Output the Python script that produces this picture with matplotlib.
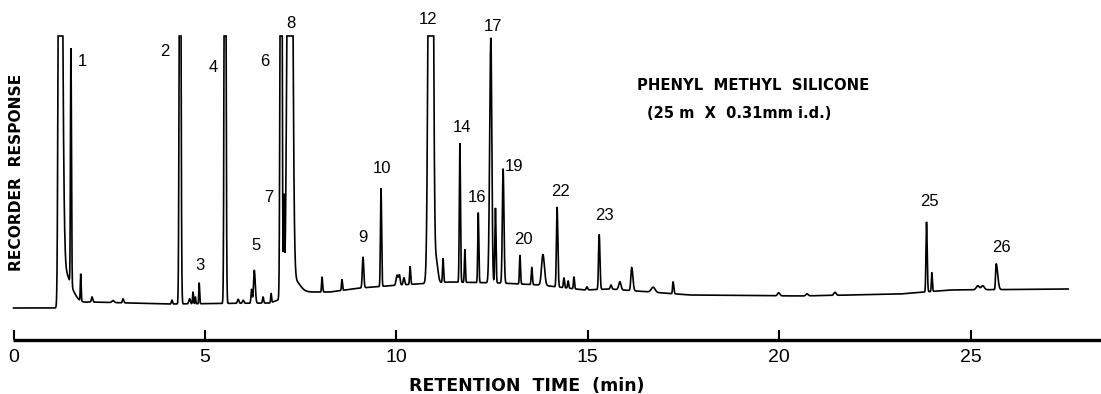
import numpy as np
import matplotlib.pyplot as plt

plt.rcParams['font.family'] = ['Liberation Sans', 'DejaVu Sans']

# peaks: retention time (min), height above baseline,
# left / right half-widths (min)
peak_t = [1.20, 1.25, 1.50, 1.755, 2.05, 2.60, 2.86, 4.14, 4.35, 4.60, 4.69, 4.75, 4.85,
          5.525, 5.87, 6.00, 6.22, 6.29, 6.52, 6.73, 6.99, 7.065, 7.22, 7.30,
          8.06, 8.58, 9.13, 9.60, 10.02, 10.08, 10.20, 10.36, 10.90, 11.05, 11.22,
          11.66, 11.79, 12.14, 12.47, 12.59, 12.79, 13.23, 13.54, 13.83, 14.20,
          14.38, 14.49, 14.64, 14.98, 15.30, 15.61, 15.84, 16.15, 16.71, 17.23,
          19.99, 20.73, 21.46, 23.85, 23.99, 25.19, 25.32, 25.67]
peak_h = [900, 40, 236, 27, 5, 2, 4, 4, 700, 5, 12, 7, 21,
          800, 4, 3, 14, 33, 6, 9, 900, 95, 1000, 15,
          15, 11, 31, 98, 10, 10, 7, 18, 1100, 20, 24,
          139, 33, 70, 245, 75, 114, 29, 17, 31, 80,
          10, 7, 12, 3, 55, 4, 8, 23, 5, 12,
          3, 2, 3, 70, 19, 4, 4, 26]
peak_wl = [0.025, 0.02, 0.012, 0.01, 0.015, 0.03, 0.015, 0.015, 0.018, 0.02, 0.012, 0.01, 0.01,
           0.018, 0.02, 0.02, 0.015, 0.02, 0.015, 0.012, 0.02, 0.012, 0.05, 0.02,
           0.012, 0.012, 0.018, 0.014, 0.025, 0.02, 0.02, 0.013, 0.045, 0.03, 0.013,
           0.014, 0.012, 0.013, 0.03, 0.015, 0.02, 0.013, 0.015, 0.035, 0.017,
           0.015, 0.015, 0.013, 0.02, 0.017, 0.02, 0.03, 0.022, 0.05, 0.013,
           0.03, 0.03, 0.03, 0.014, 0.012, 0.04, 0.04, 0.015]
peak_wr = [0.055, 0.22, 0.014, 0.012, 0.02, 0.03, 0.02, 0.015, 0.02, 0.02, 0.012, 0.01, 0.012,
           0.02, 0.02, 0.02, 0.015, 0.025, 0.015, 0.012, 0.02, 0.012, 0.05, 0.15,
           0.015, 0.015, 0.02, 0.016, 0.025, 0.02, 0.02, 0.015, 0.045, 0.04, 0.015,
           0.016, 0.014, 0.015, 0.025, 0.015, 0.022, 0.015, 0.015, 0.04, 0.02,
           0.015, 0.015, 0.015, 0.02, 0.02, 0.02, 0.03, 0.03, 0.05, 0.02,
           0.03, 0.03, 0.03, 0.018, 0.014, 0.04, 0.04, 0.04]

# baseline drift
base_t = [0, 1.08, 2.0, 4.09, 6.7, 7.48, 8.27, 9.05, 10.1, 11.4, 12.7, 13.75,
          14.93, 15.58, 16.63, 17.67, 20.55, 23.16, 23.81, 24.46, 27.55]
base_v = [0, 0, 6, 4, 5, 16, 16, 20, 23, 26, 25, 23,
          18, 19, 16, 13, 12, 14, 16, 18, 19]

pen_limit = 272

peak_labels = ['1', '2', '3', '4', '5', '6', '7', '8', '9', '10', '12', '14',
               '16', '17', '19', '20', '22', '23', '25', '26']
label_t = [1.79, 3.96, 4.87, 5.21, 6.33, 6.57, 6.67, 7.25, 9.13, 9.63, 10.83, 11.72,
           12.11, 12.53, 13.07, 13.33, 14.30, 15.43, 23.92, 25.80]
label_y = [246, 256, 43, 240, 63, 246, 110, 285, 70, 140, 289, 181,
           111, 282, 142, 69, 117, 92, 106, 61]

ticks = [0, 5, 10, 15, 20, 25]

t = np.linspace(0, 27.55, 20000)
trace = np.interp(t, base_t, base_v)
for t0, h, wl, wr in zip(peak_t, peak_h, peak_wl, peak_wr):
    w = np.where(t < t0, wl, wr)
    trace += h * np.exp(-(t - t0) ** 2 / (2 * w ** 2))
trace = np.minimum(trace, pen_limit)

px = 38.28  # pixels per minute
fig = plt.figure(figsize=(11.01, 3.94), dpi=100)
ax = fig.add_axes([0, 0, 1, 1])
ax.set_xlim(-13.5 / px, (1101 - 13.5) / px)
ax.set_ylim(-86, 308)
ax.axis('off')

ax.plot(t, trace, color='black', lw=1.2, solid_joinstyle='miter')

# time axis drawn like the recorder scale
ax.plot([-0.02, 28.5], [-32, -32], color='black', lw=2.4, solid_capstyle='butt')
ax.vlines(ticks, -32, -22, color='black', lw=1.5)
for tk in ticks:
    ax.text(tk, -49, str(tk), ha='center', va='center', fontsize=14)

bold = dict(family='DejaVu Sans', fontweight='bold')
ax.text(13.41, -78, 'RETENTION  TIME  (min)', ha='center', va='center',
        fontsize=12.5, **bold)
ax.text(0.09, 136, 'RECORDER  RESPONSE', ha='center', va='center', rotation=90,
        fontsize=11.2, **bold)

for lab, lt, ly in zip(peak_labels, label_t, label_y):
    ax.text(lt, ly, lab, ha='center', va='center', fontsize=12)

ax.text(16.29, 223, 'PHENYL  METHYL  SILICONE', ha='left', va='center',
        fontsize=10.7, **bold)
ax.text(16.55, 195, '(25 m  X  0.31mm i.d.)', ha='left', va='center',
        fontsize=10.5, **bold)

fig.savefig('out.png', dpi=100)
